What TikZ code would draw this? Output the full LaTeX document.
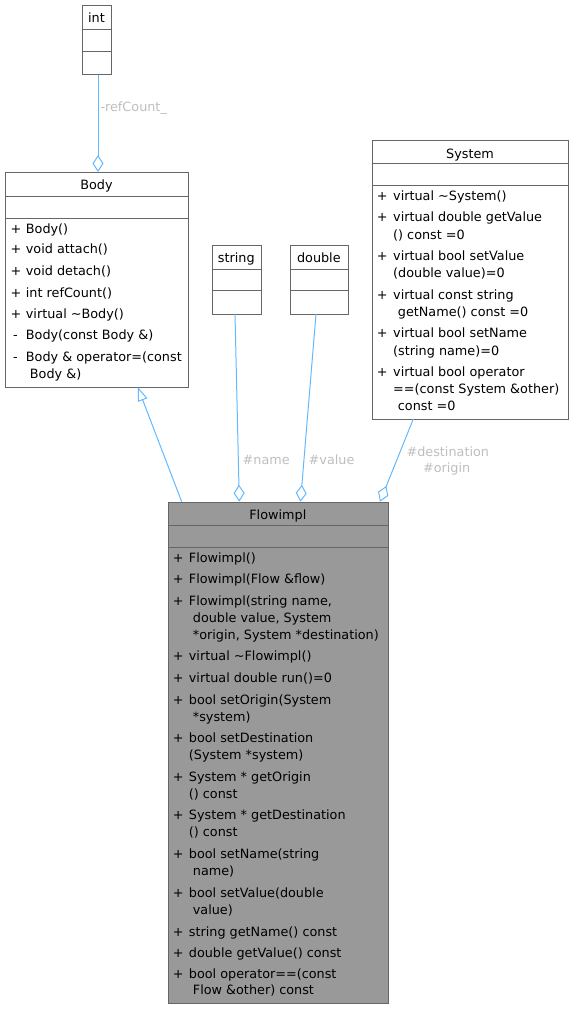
\documentclass[tikz,border=0pt]{standalone}
\usepackage{fontspec}
\setmainfont{DejaVu Sans}
\usetikzlibrary{arrows.meta}
\definecolor{bordc}{HTML}{666666}
\definecolor{edgec}{HTML}{63B8FF}
\definecolor{labc}{HTML}{BEBEBE}
\definecolor{curc}{HTML}{999999}
\newcommand\memb[4]{\node[mt] (#1) at (#2,#3) {#4};}
\begin{document}
\begin{tikzpicture}[x=1pt,y=-1pt,
  cls/.style={draw=bordc, line width=1pt, fill=white, inner sep=0pt, anchor=north west},
  cur/.style={cls, fill=curc},
  sepl/.style={draw=bordc, line width=1pt},
  mt/.style={font=\fontsize{12.8}{15}\selectfont, inner sep=0pt, anchor=west, text height=9.5pt, text depth=0pt},
  ttl/.style={mt, anchor=center},
  lab/.style={font=\fontsize{12.8}{16.3}\selectfont, text=labc, inner sep=0pt, text height=9.5pt, text depth=0pt},
  edge/.style={draw=edgec, line width=1pt},
  agg/.style={edge, -{Diamond[open, length=17pt, width=11pt, line width=1pt]}},
  inh/.style={edge, {Triangle[open, length=14pt, width=10pt, line width=1pt]}-}
]
\useasboundingbox (0,0) rectangle (573,1010);

% ---------- int ----------
\node[cls, minimum width=29pt, minimum height=69pt] (int) at (82,5) {};
\draw[sepl] (int.west |- 0,29) -- (int.east |- 0,29);
\draw[sepl] (int.west |- 0,51) -- (int.east |- 0,51);
\node[ttl] (intT) at (96.5,17.5) {int};

% ---------- Body ----------
\node[cls, minimum width=183pt, minimum height=215pt] (body) at (5,172) {};
\draw[sepl] (body.west |- 0,196) -- (body.east |- 0,196);
\draw[sepl] (body.west |- 0,218) -- (body.east |- 0,218);
\node[ttl] (bodyT) at (96.5,185) {Body};
\memb{bp1}{10.4}{229}{+}
\memb{bp2}{10.4}{249}{+}
\memb{bp3}{10.4}{270.7}{+}
\memb{bp4}{10.4}{292.3}{+}
\memb{bp5}{10.4}{313.3}{+}
\memb{bp6}{13}{335}{-}
\memb{bp7}{13}{356.7}{-}
\memb{b1}{25.7}{229}{Body()}
\memb{b2}{25.7}{249}{void attach()}
\memb{b3}{25.7}{270.7}{void detach()}
\memb{b4}{25.7}{292.3}{int refCount()}
\memb{b5}{25.7}{313.3}{virtual \textasciitilde Body()}
\memb{b6}{25.7}{335}{Body(const Body \&)}
\memb{b7}{25.7}{356.7}{Body \& operator=(const}
\memb{b7b}{29.7}{373.3}{Body \&)}

% ---------- string ----------
\node[cls, minimum width=49.5pt, minimum height=69.3pt] (str) at (211.5,244.7) {};
\draw[sepl] (str.west |- 0,269) -- (str.east |- 0,269);
\draw[sepl] (str.west |- 0,290) -- (str.east |- 0,290);
\node[ttl] (strT) at (236.25,258) {string};

% ---------- double ----------
\node[cls, minimum width=57.7pt, minimum height=69.3pt] (dbl) at (290,244.7) {};
\draw[sepl] (dbl.west |- 0,269) -- (dbl.east |- 0,269);
\draw[sepl] (dbl.west |- 0,290) -- (dbl.east |- 0,290);
\node[ttl] (dblT) at (318.85,258) {double};

% ---------- System ----------
\node[cls, minimum width=196pt, minimum height=279pt] (sys) at (372,140) {};
\draw[sepl] (sys.west |- 0,163) -- (sys.east |- 0,163);
\draw[sepl] (sys.west |- 0,185) -- (sys.east |- 0,185);
\node[ttl] (sysT) at (470,153.3) {System};
\memb{sp1}{376.7}{195.7}{+}
\memb{sp2}{376.7}{217}{+}
\memb{sp3}{376.7}{256}{+}
\memb{sp4}{376.7}{295}{+}
\memb{sp5}{376.7}{333}{+}
\memb{sp6}{376.7}{371.7}{+}
\memb{s1}{393}{195.7}{virtual \textasciitilde System()}
\memb{s2}{393}{217}{virtual double getValue}
\memb{s2b}{393}{234.7}{() const =0}
\memb{s3}{393}{256}{virtual bool setValue}
\memb{s3b}{393}{273}{(double value)=0}
\memb{s4}{393}{295}{virtual const string}
\memb{s4b}{397.7}{311.7}{getName() const =0}
\memb{s5}{393}{333}{virtual bool setName}
\memb{s5b}{393}{350.7}{(string name)=0}
\memb{s6}{393}{371.7}{virtual bool operator}
\memb{s6b}{393}{389}{==(const System \&other)}
\memb{s6c}{397.7}{406}{const =0}

% ---------- Flowimpl ----------
\node[cur, minimum width=220.3pt, minimum height=500.8pt] (flow) at (167.7,501.7) {};
\draw[sepl] (flow.west |- 0,525) -- (flow.east |- 0,525);
\draw[sepl] (flow.west |- 0,547) -- (flow.east |- 0,547);
\node[ttl] (flowT) at (277.85,515) {Flowimpl};
\foreach \yy [count=\i] in {557.7,579,601,656,677.7,699.3,737.7,776.7,815,854,892.7,931.7,952.7,973.3}
  {\node[mt] (fp\i) at (172.7,\yy) {+};}
\memb{f1}{188.7}{557.7}{Flowimpl()}
\memb{f2}{188.7}{579}{Flowimpl(Flow \&flow)}
\memb{f3}{188.7}{601}{Flowimpl(string name,}
\memb{f3b}{192.7}{617.7}{double value, System}
\memb{f3c}{192.7}{634.7}{*origin, System *destination)}
\memb{f4}{188.7}{656}{virtual \textasciitilde Flowimpl()}
\memb{f5}{188.7}{677.7}{virtual double run()=0}
\memb{f6}{188.7}{699.3}{bool setOrigin(System}
\memb{f6b}{192.7}{716.7}{*system)}
\memb{f7}{188.7}{737.7}{bool setDestination}
\memb{f7b}{188.7}{755}{(System *system)}
\memb{f8}{188.7}{776.7}{System * getOrigin}
\memb{f8b}{188.7}{793.3}{() const}
\memb{f9}{188.7}{815}{System * getDestination}
\memb{f9b}{188.7}{831.7}{() const}
\memb{f10}{188.7}{854}{bool setName(string}
\memb{f10b}{192.7}{870.7}{name)}
\memb{f11}{188.7}{892.7}{bool setValue(double}
\memb{f11b}{192.7}{909.3}{value)}
\memb{f12}{188.7}{931.7}{string getName() const}
\memb{f13}{188.7}{952.7}{double getValue() const}
\memb{f14}{188.7}{973.3}{bool operator==(const}
\memb{f14b}{192.7}{990}{Flow \&other) const}

% ---------- connectors ----------
\draw[agg] ([xshift=1pt]int.south) -- ([xshift=1pt]body.north);
\node[lab, anchor=west] (lref) at (100.3,107) {-refCount\_};

\coordinate (inhTip) at (137.7,387);
\coordinate (inhFoot) at (181.7,501.7);
\draw[inh] (inhTip) -- (inhFoot);

\coordinate (strOut) at (235,314);
\coordinate (strIn) at (239.3,501.7);
\draw[agg] (strOut) -- (strIn);
\node[lab, anchor=west] (lname) at (242.5,460) {\#name};

\coordinate (dblOut) at (316,314);
\coordinate (dblIn) at (300.5,501.7);
\draw[agg] (dblOut) -- (dblIn);
\node[lab, anchor=west] (lval) at (308.5,460) {\#value};

\coordinate (sysOut) at (413.3,419);
\coordinate (sysIn) at (380,501.7);
\draw[agg] (sysOut) -- (sysIn);
\node[lab, anchor=center] (lsys1) at (447.8,451.7) {\#destination};
\node[lab, anchor=center] (lsys2) at (446.7,468) {\#origin};
\end{tikzpicture}
\end{document}
